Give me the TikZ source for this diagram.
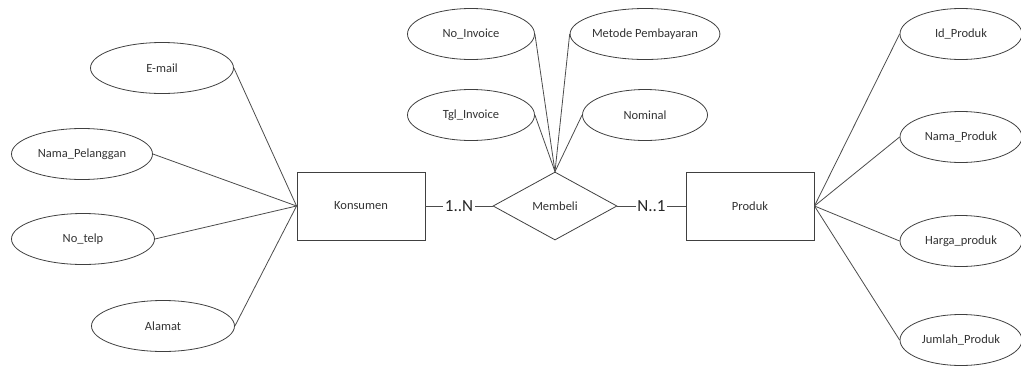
\documentclass[tikz,border=0pt]{standalone}
\usepackage{fontspec}
\setmainfont{Carlito}
\usetikzlibrary{shapes.geometric}
\begin{document}
\begin{tikzpicture}[x=1pt,y=-1pt,
  conn/.style={draw=black!70,line width=0.8pt},
  attr/.style={ellipse,draw=black!75,line width=0.8pt,minimum width=#1,minimum height=51pt,inner sep=0pt,text=black!80,font=\fontsize{12.5}{14}\selectfont},
  attr/.default=143pt,
  entity/.style={rectangle,draw=black!75,line width=0.9pt,minimum width=128pt,minimum height=68pt,inner sep=0pt,text=black!80,font=\fontsize{12.5}{14}\selectfont},
  rel/.style={diamond,draw=black!75,line width=0.8pt,minimum width=124pt,minimum height=68pt,inner sep=0pt,aspect=1.8,text=black!80,font=\fontsize{12.5}{14}\selectfont},
  card/.style={fill=white,inner sep=1.5pt,text=black!85,font=\fontsize{17}{19}\selectfont}]
\useasboundingbox (0,0) rectangle (1021,365);
% entities and relationship
\node[entity] (kons) at (361,206) {Konsumen};
\node[rel] (beli) at (555,206) {Membeli};
\node[entity] (prod) at (750,206) {Produk};
% left attributes
\node[attr] (email) at (162,68) {E-mail};
\node[attr=141pt] (nama) at (82,154) {Nama\_Pelanggan};
\node[attr] (telp) at (83,239) {No\_telp};
\node[attr] (alamat) at (163,326) {Alamat};
% top attributes
\node[attr=127pt] (noinv) at (471,34) {No\_Invoice};
\node[attr=125pt] (metode) at (645,34) {Metode Pembayaran};
\node[attr=127pt] (tglinv) at (471,115) {Tgl\_Invoice};
\node[attr=125pt] (nominal) at (645,115) {Nominal};
% right attributes
\node[attr=122pt] (idp) at (961,34) {Id\_Produk};
\node[attr=122pt] (namap) at (961,137) {Nama\_Produk};
\node[attr=122pt] (harga) at (961,241) {Harga\_produk};
\node[attr=122pt] (jumlah) at (961,340) {Jumlah\_Produk};
% connectors
\draw[conn] (email.east) -- (kons.west);
\draw[conn] (nama.east) -- (kons.west);
\draw[conn] (telp.east) -- (kons.west);
\draw[conn] (alamat.east) -- (kons.west);
\draw[conn] (noinv.east) -- (beli.north);
\draw[conn] (tglinv.east) -- (beli.north);
\draw[conn] (metode.west) -- (beli.north);
\draw[conn] (nominal.west) -- (beli.north);
\draw[conn] (prod.east) -- (idp.west);
\draw[conn] (prod.east) -- (namap.west);
\draw[conn] (prod.east) -- (harga.west);
\draw[conn] (prod.east) -- (jumlah.west);
\draw[conn] (kons.east) -- node[card] (c1) {1..N} (beli.west);
\draw[conn] (beli.east) -- node[card] (c2) {N..1} (prod.west);
\end{tikzpicture}
\end{document}
